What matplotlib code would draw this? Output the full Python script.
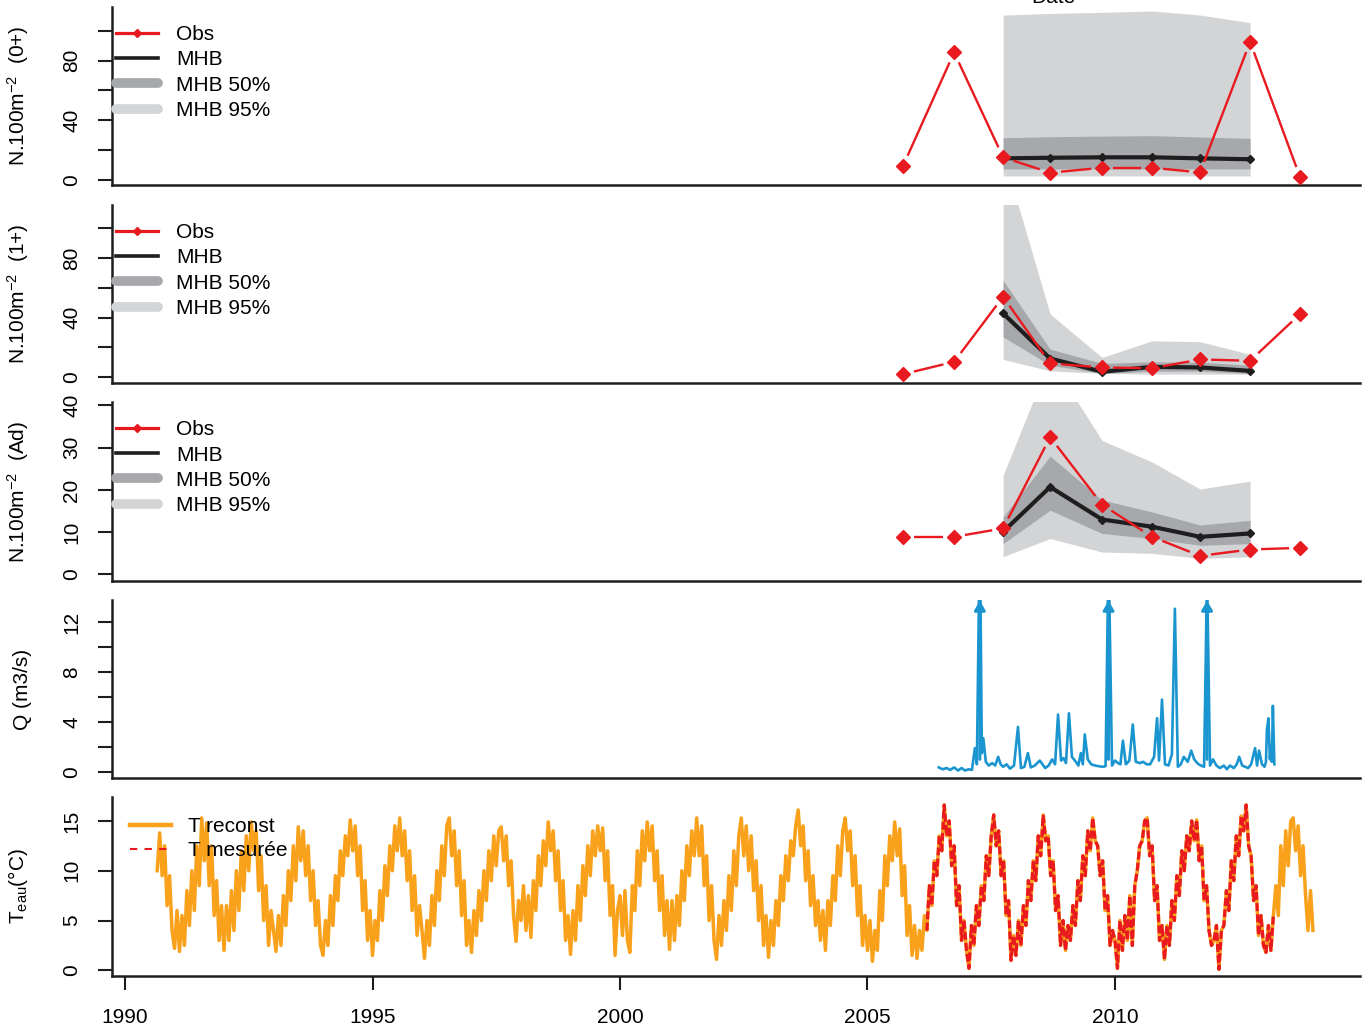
import matplotlib
matplotlib.use("Agg")
import matplotlib.pyplot as plt
import numpy as np
from matplotlib.lines import Line2D

plt.rcParams['font.family'] = ['Liberation Sans', 'DejaVu Sans']
plt.rcParams['mathtext.fontset'] = 'custom'
plt.rcParams['mathtext.rm'] = 'Liberation Sans'
plt.rcParams['mathtext.it'] = 'Liberation Sans:italic'
plt.rcParams['mathtext.bf'] = 'Liberation Sans:bold'

# ---------------- data ----------------
survey_dates = [2005.72, 2006.75, 2007.74, 2008.69, 2009.74, 2010.75, 2011.72, 2012.73, 2013.74]
model_dates = survey_dates[2:8]

# 0+
obs_0 = [9.6, 85.5, 15.2, 4.9, 8.2, 8.2, 5.1, 92.6, 1.8]
mhb_0 = [14.5, 14.9, 15.2, 15.2, 14.5, 13.9]
mhb_0_lo50 = [7.4, 7.4, 7.4, 7.4, 7.4, 7.4]
mhb_0_hi50 = [28.3, 29.0, 29.4, 29.7, 28.8, 27.9]
mhb_0_lo95 = [2.7, 2.7, 2.7, 2.7, 2.7, 2.7]
mhb_0_hi95 = [110.5, 111.6, 112.3, 113.2, 110.5, 105.4]

# 1+
obs_1 = [2.0, 10.3, 54.0, 9.2, 6.5, 6.0, 11.9, 11.0, 42.4]
mhb_1 = [42.8, 12.5, 3.6, 6.9, 6.5, 4.2]
mhb_1_lo50 = [27.0, 8.0, 2.5, 4.0, 4.0, 2.5]
mhb_1_hi50 = [65.0, 18.8, 9.2, 10.3, 10.0, 8.0]
mhb_1_lo95 = [11.9, 4.2, 2.5, 2.0, 2.0, 2.0]
mhb_1_hi95 = [150.0, 42.4, 13.2, 24.4, 23.8, 15.3]

# Ad
obs_ad = [8.9, 8.9, 10.9, 32.5, 16.5, 8.9, 4.4, 5.9, 6.3]
mhb_ad = [10.1, 20.7, 13.0, 11.3, 8.9, 9.7]
mhb_ad_lo50 = [7.3, 15.2, 9.7, 8.5, 6.9, 7.3]
mhb_ad_hi50 = [13.6, 28.0, 17.6, 14.8, 11.7, 12.8]
mhb_ad_lo95 = [4.2, 8.5, 5.3, 5.0, 3.8, 4.2]
mhb_ad_hi95 = [23.5, 51.0, 31.7, 26.6, 20.2, 22.1]

# discharge
q_dates = [2006.44, 2006.52, 2006.60, 2006.67, 2006.75, 2006.83, 2006.90, 2006.97, 2007.04, 2007.11,
           2007.17, 2007.21, 2007.27, 2007.31, 2007.34, 2007.39, 2007.45, 2007.52, 2007.58, 2007.64,
           2007.69, 2007.74, 2007.81, 2007.88, 2007.96, 2008.04, 2008.10, 2008.17, 2008.24, 2008.30,
           2008.38, 2008.48, 2008.59, 2008.66, 2008.73, 2008.79, 2008.85, 2008.91, 2008.96, 2009.01,
           2009.07, 2009.13, 2009.21, 2009.26, 2009.31, 2009.35, 2009.39, 2009.45, 2009.52, 2009.60,
           2009.67, 2009.74, 2009.81, 2009.87, 2009.94, 2010.00, 2010.06, 2010.11, 2010.16, 2010.22,
           2010.29, 2010.36, 2010.42, 2010.50, 2010.57, 2010.64, 2010.71, 2010.79, 2010.85, 2010.89,
           2010.95, 2011.01, 2011.08, 2011.15, 2011.21, 2011.27, 2011.33, 2011.39, 2011.47, 2011.54,
           2011.60, 2011.64, 2011.69, 2011.74, 2011.80, 2011.86, 2011.92, 2011.98, 2012.05, 2012.12,
           2012.20, 2012.26, 2012.32, 2012.40, 2012.46, 2012.51, 2012.57, 2012.63, 2012.69, 2012.75,
           2012.83, 2012.87, 2012.91, 2012.97, 2013.02, 2013.05, 2013.07, 2013.10, 2013.13, 2013.15,
           2013.17, 2013.19, 2013.22]
q_flow = [0.35, 0.2, 0.3, 0.15, 0.35, 0.1, 0.3, 0.1, 0.2, 0.15,
          1.9, 0.6, 20.0, 1.5, 2.7, 0.8, 0.5, 0.7, 0.5, 1.2,
          0.6, 0.4, 0.6, 0.25, 0.5, 3.6, 0.3, 0.4, 1.5, 0.35,
          0.5, 0.9, 0.3, 0.5, 1.0, 0.6, 4.6, 0.9, 1.1, 0.7,
          4.7, 1.2, 0.8, 0.5, 1.5, 0.6, 3.0, 1.0, 0.6, 0.5,
          0.45, 0.4, 0.45, 18.0, 0.5, 0.9, 0.7, 0.6, 2.5, 0.6,
          0.9, 3.8, 0.8, 0.7, 0.8, 0.6, 0.6, 1.2, 4.3, 0.9,
          5.8, 0.6, 0.5, 1.4, 13.1, 0.4, 0.6, 1.2, 0.8, 1.7,
          1.0, 0.8, 0.6, 0.5, 0.4, 16.0, 0.5, 1.0, 0.5, 0.3,
          0.5, 0.2, 0.5, 0.3, 0.6, 1.2, 0.5, 0.4, 0.3, 0.6,
          1.9, 0.5, 1.7, 0.6, 0.4, 0.8, 3.4, 4.3, 1.0, 2.1,
          0.8, 5.3, 0.6]

# water temperature, every 0.05 year from 1990.65
t_start, t_step = 1990.65, 0.05
t_eau = [
    10, 13.8, 9.5, 12.5, 6.5, 9.5, 4,                                                          # 1990
    2.2, 6, 1.9, 5.5, 2.5, 8, 4.5, 10, 6, 12.5, 8.5, 15.3, 11, 14.8, 8.5, 12.5, 5.5, 9, 3, 6.5,     # 1991
    2, 6.5, 3, 8, 4, 10, 6, 12, 8, 13.5, 10, 14.9, 12, 14, 8, 11.5, 5, 8.5, 2.5, 6,                # 1992
    4, 1.9, 5.5, 2.5, 7.5, 4.5, 10, 7, 12.5, 9, 14.4, 11, 14, 9.5, 12.5, 7, 10, 4.5, 7, 2.5,       # 1993
    1.5, 5, 2.5, 7.5, 4.5, 9.5, 7, 12, 9.5, 13.5, 11.5, 15.1, 12, 14.5, 9.5, 12.5, 6, 9, 3, 6,     # 1994
    1.5, 5, 3, 8, 5, 10.5, 7.5, 12.5, 10, 14.5, 12, 15.3, 11.5, 14, 9, 12, 6, 9.5, 3.5, 6.5,       # 1995
    4, 1.2, 5, 2.5, 7.5, 4.5, 10, 7, 12.5, 9.5, 14.5, 15.3, 11.5, 14, 8.5, 12, 5.5, 9, 2.5, 5,     # 1996
    1.8, 6, 3.5, 8, 5, 10, 7, 12, 9, 13.5, 10.5, 14, 14.4, 11, 13.5, 8.5, 11, 5.5, 2.9, 7,         # 1997
    5, 8.5, 4, 7.5, 3.3, 9, 6, 11.5, 8.5, 13, 10.5, 14.9, 12, 14, 9, 12, 6, 9, 3, 5.5,             # 1998
    1.6, 6, 3, 8.5, 5, 10.5, 7.5, 12.5, 9.5, 14, 11.5, 14.5, 12, 14.3, 9, 12, 5.5, 8.5, 1.5, 6,    # 1999
    7.5, 3.5, 8, 3, 1.8, 8.5, 6, 12, 8.5, 14, 11, 14.9, 12, 14.5, 9, 12, 6, 9.5, 3.5, 7,           # 2000
    2.1, 7, 3, 7.5, 4.5, 10, 7, 12.5, 9.5, 14, 11.5, 15.3, 11.5, 14.5, 8.5, 11.5, 5, 8.5, 3, 1.1,  # 2001
    5.5, 2.5, 7, 4, 9.5, 6, 12, 8.5, 13.5, 15.3, 11.5, 14.5, 10, 13.5, 8, 11, 5, 8.5, 2.5, 5.5,    # 2002
    1.3, 5, 2.5, 7, 4.5, 9.5, 7, 11.5, 9, 13, 11.5, 14.5, 16.1, 12.5, 14.5, 9, 12, 6.5, 9.5, 4.5,  # 2003
    7, 3, 6, 2, 7, 4.5, 9.5, 7, 12.5, 9.5, 14, 15.3, 12, 14, 8.5, 11.5, 5.5, 8.5, 2.5, 5.5,        # 2004
    2, 5, 0.9, 4, 2, 8, 5, 11.5, 8.5, 13.5, 11, 14.9, 11.5, 14.2, 7.5, 10.5, 3.5, 6.5, 1.5, 4.5,   # 2005
    1.2, 4, 2, 5.5, 4, 8.5, 6.5, 11, 9.5, 13.5, 12, 16.6, 13.5, 15, 10.5, 12.5, 6.5, 8.5, 3, 5,    # 2006
    2, 0.2, 4.5, 2.5, 6.5, 4.5, 8.5, 7, 11.5, 9.5, 13.5, 15.6, 12.5, 14, 9.5, 11, 5.5, 7, 1.0, 3.5,  # 2007
    1.5, 5, 2.5, 6.5, 4.5, 9, 7, 11, 9, 13.5, 11.5, 15.6, 13, 13.5, 9.5, 11, 6, 7.5, 2.5, 5,       # 2008
    2.0, 4.5, 3, 6.5, 4.5, 9, 7, 11.5, 9.5, 14, 12, 15.3, 13, 12.5, 9.5, 11, 6, 7.5, 2.5, 4,       # 2009
    3, 0.2, 5, 2, 5.5, 3, 7.5, 2.5, 8.5, 10, 12.5, 13, 15, 15.3, 11.5, 12.5, 7, 8.5, 3, 4.5,       # 2010
    1.1, 4.5, 2.5, 7, 5, 9.5, 7.5, 12, 10, 13.5, 12, 15, 13, 15.1, 11, 12.5, 7, 8.5, 4, 2.5,       # 2011
    3, 4.5, 0.1, 4, 4.5, 8, 6, 11, 9, 13.5, 11.5, 15.5, 14, 16.6, 12.5, 11.5, 7, 8.5, 3.5, 5.5,    # 2012
    2.5, 1.8, 4.5, 2, 5.5, 8.5, 5.5, 12.5, 8.5, 14, 10.5, 15, 15.3, 12, 14.5, 9.5, 12.5, 7.5, 4, 8,  # 2013
    4,                                                                                          # 2014
]
t_mes_start, t_mes_end = 2006.20, 2013.23

x_ticks = [1990, 1995, 2000, 2005, 2010]

# ---------------- style ----------------
RED = '#E8191F'
BLACK = '#1E1E1E'
G50 = '#A7A8AC'
G95 = '#D3D4D6'
BLUE = '#1A95CF'
ORANGE = '#F9A11B'
FS = 15
W, H = 1370, 1027
XL = (1989.737, 2014.95)

fig = plt.figure(figsize=(W / 100, H / 100), dpi=100)


def make_ax(top, bottom):
    ax = fig.add_axes([112 / W, 1 - bottom / H, (1360 - 112) / W, (bottom - top) / H])
    ax.set_xlim(*XL)
    for s in ['top', 'right']:
        ax.spines[s].set_visible(False)
    for s in ['left', 'bottom']:
        ax.spines[s].set_linewidth(1.8)
        ax.spines[s].set_color(BLACK)
    ax.tick_params(axis='y', length=10, width=1.5, pad=12, labelsize=FS, labelrotation=90, color=BLACK)
    ax.set_xticks([])
    return ax


def fix_ylabels(ax):
    for lab in ax.get_yticklabels():
        lab.set_va('center')


def plot_type_b(ax, x, y, gap=11, **kw):
    pts = ax.transData.transform(np.column_stack([x, y]))
    inv = ax.transData.inverted()
    for p0, p1 in zip(pts[:-1], pts[1:]):
        d = p1 - p0
        L = np.hypot(d[0], d[1])
        if L <= 2 * gap:
            continue
        u = d / L
        seg = inv.transform(np.array([p0 + u * gap, p1 - u * gap]))
        ax.plot(seg[:, 0], seg[:, 1], color=RED, lw=1.7, solid_capstyle='butt', zorder=5)
    ax.plot(x, y, ls='none', marker='D', ms=7.4, color=RED, mec=RED, zorder=6)


def fish_panel(ax, obs, mhb, lo50, hi50, lo95, hi95, ylim, ticks, labels):
    ax.set_ylim(*ylim)
    ax.fill_between(model_dates, lo95, hi95, color=G95, lw=0, zorder=1)
    ax.fill_between(model_dates, lo50, hi50, color=G50, lw=0, zorder=2)
    ax.plot(model_dates, mhb, color=BLACK, lw=3, marker='D', ms=4, zorder=4)
    plot_type_b(ax, survey_dates, obs)
    ax.set_yticks(ticks)
    ax.set_yticklabels(labels)
    fix_ylabels(ax)
    handles = [Line2D([], [], color=RED, lw=2.3, marker='D', ms=4),
               Line2D([], [], color=BLACK, lw=2.6),
               Line2D([], [], color=G50, lw=7, solid_capstyle='round'),
               Line2D([], [], color=G95, lw=7, solid_capstyle='round')]
    ax.legend(handles, ['Obs', 'MHB', 'MHB 50%', 'MHB 95%'], loc='upper left',
              bbox_to_anchor=(0.003, 0.898), frameon=False, fontsize=FS,
              handlelength=2.05, handletextpad=0.85, labelspacing=0.30,
              borderpad=0, borderaxespad=0)


ax1 = make_ax(7, 185)
fish_panel(ax1, obs_0, mhb_0, mhb_0_lo50, mhb_0_hi50, mhb_0_lo95, mhb_0_hi95,
           (-3.35, 115.9), [0, 20, 40, 60, 80, 100], ['0', '', '40', '', '80', ''])
ax2 = make_ax(205, 382.5)
fish_panel(ax2, obs_1, mhb_1, mhb_1_lo50, mhb_1_hi50, mhb_1_lo95, mhb_1_hi95,
           (-3.6, 115.6), [0, 20, 40, 60, 80, 100], ['0', '', '40', '', '80', ''])
ax3 = make_ax(402, 581)
fish_panel(ax3, obs_ad, mhb_ad, mhb_ad_lo50, mhb_ad_hi50, mhb_ad_lo95, mhb_ad_hi95,
           (-1.55, 40.8), [0, 10, 20, 30, 40], ['0', '10', '20', '30', '40'])

# discharge panel
ax4 = make_ax(600, 778)
q_top = 13.8
ax4.set_ylim(-0.5, q_top)
ax4.plot(q_dates, q_flow, color=BLUE, lw=1.9, zorder=3)
for d, v in zip(q_dates, q_flow):
    if v > q_top:
        ax4.annotate('', xy=(d, q_top - 0.05), xytext=(d, 1.0),
                     arrowprops=dict(arrowstyle='-|>,head_length=0.55,head_width=0.32',
                                     color=BLUE, lw=2.2, shrinkA=0, shrinkB=0),
                     annotation_clip=False, zorder=4)
ax4.set_yticks([0, 2, 4, 6, 8, 10, 12])
ax4.set_yticklabels(['0', '', '4', '', '8', '', '12'])
fix_ylabels(ax4)

# temperature panel
ax5 = make_ax(797, 976)
ax5.set_ylim(-0.57, 17.4)
t_dates = t_start + t_step * np.arange(len(t_eau))
t_arr = np.array(t_eau, dtype=float)
ax5.plot(t_dates, t_arr, color=ORANGE, lw=2.5, zorder=3)
mask = (t_dates >= t_mes_start) & (t_dates <= t_mes_end)
ax5.plot(t_dates[mask], t_arr[mask], color=RED, lw=2.3, dashes=(2.5, 1.0), zorder=4)
ax5.set_yticks([0, 5, 10, 15])
ax5.set_yticklabels(['0', '5', '10', '15'])
fix_ylabels(ax5)
ax5.set_xticks(x_ticks)
ax5.set_xticklabels([str(v) for v in x_ticks])
ax5.tick_params(axis='x', length=10, width=1.5, pad=13, labelsize=FS, color=BLACK)
th = [Line2D([], [], color=ORANGE, lw=3.2),
      Line2D([], [], color=RED, lw=1.5, dashes=(3.5, 3.5))]
ax5.legend(th, ['T reconst', 'T mesurée'], loc='upper left', bbox_to_anchor=(0.0144, 0.888),
           frameon=False, fontsize=FS, handlelength=1.95, handletextpad=0.85,
           labelspacing=0.25, borderpad=0, borderaxespad=0)

# y-axis titles
def ytitle(text, xpx, ax):
    pos = ax.get_position()
    fig.text(xpx / W, pos.y0 + pos.height / 2, text, rotation=90, ha='center', va='center', fontsize=FS)

ytitle(r'N.100m$^{-2}$  (0+)', 18, ax1)
ytitle(r'N.100m$^{-2}$  (1+)', 18, ax2)
ytitle(r'N.100m$^{-2}$  (Ad)', 18, ax3)
ytitle('Q (m3/s)', 23, ax4)
ytitle(r'T$_{\mathrm{eau}}$(°C)', 18, ax5)

# clipped title at the very top
fig.text(1053 / W, 1 - 2.7 / H, 'Date', ha='center', va='baseline', fontsize=FS)

fig.savefig('out.png', dpi=100)
